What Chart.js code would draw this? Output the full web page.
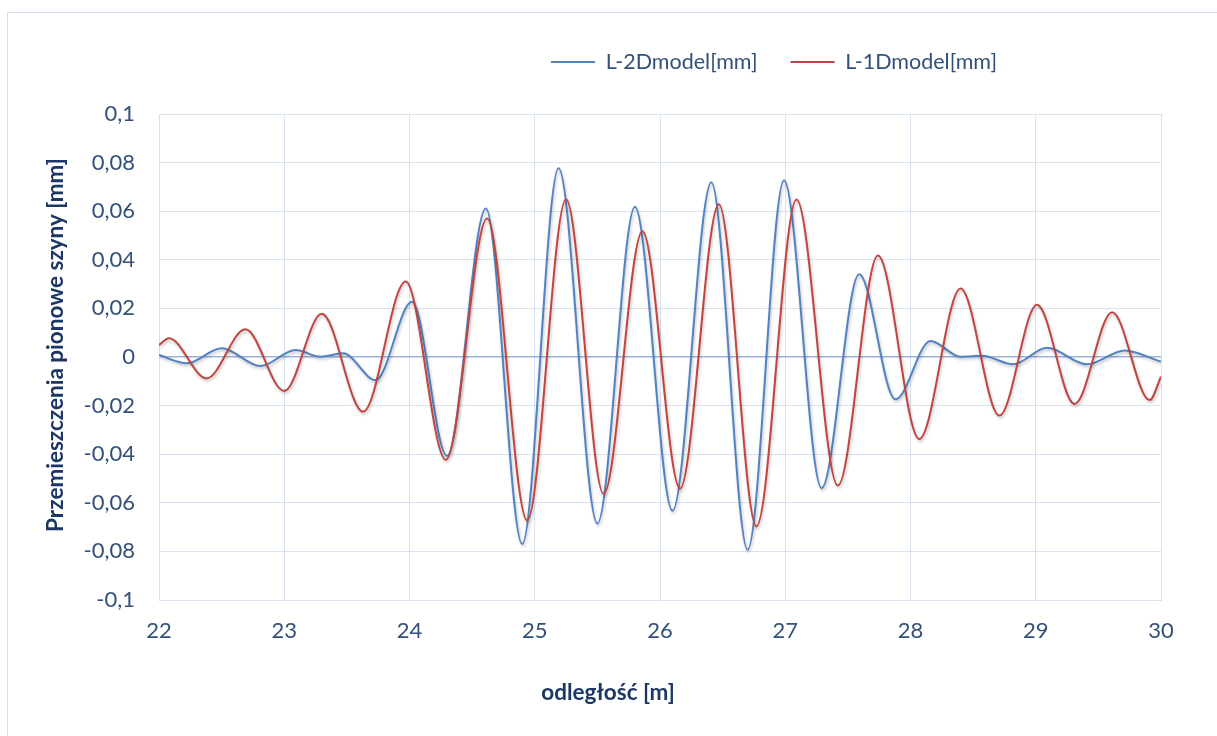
<!DOCTYPE html>
<html>
<head>
<meta charset="utf-8">
<script src="https://cdn.jsdelivr.net/npm/chart.js@4.4.1/dist/chart.umd.min.js"></script>
<style>
html,body{margin:0;padding:0;background:#fff;overflow:hidden;}
#frame{position:absolute;left:7px;top:12px;width:1400px;height:900px;border:1.5px solid #d5deef;box-sizing:border-box;}
#wrap{position:absolute;left:0;top:0;width:1217px;height:736px;}
</style>
</head>
<body>
<div id="frame"></div>
<div id="wrap"><canvas id="c" width="1217" height="736"></canvas></div>
<script>
// ---- data ----
const seriesNames = ['L-2Dmodel[mm]', 'L-1Dmodel[mm]'];
const xTickValues = [22, 23, 24, 25, 26, 27, 28, 29, 30];
const xTickLabels = ['22', '23', '24', '25', '26', '27', '28', '29', '30'];
const yTickValues = [-0.1, -0.08, -0.06, -0.04, -0.02, 0, 0.02, 0.04, 0.06, 0.08, 0.1];
const yTickLabels = ['-0,1', '-0,08', '-0,06', '-0,04', '-0,02', '0', '0,02', '0,04', '0,06', '0,08', '0,1'];
const axisTitleX = 'odległość [m]';
const axisTitleY = 'Przemieszczenia pionowe szyny [mm]';

// L-2Dmodel (blue) – extrema
const blueX = [22.00, 22.22, 22.50, 22.81, 23.09, 23.29, 23.47, 23.73, 24.02, 24.30, 24.61, 24.90, 25.19, 25.50, 25.80, 26.10, 26.41, 26.70, 26.99, 27.29, 27.59, 27.88, 28.16, 28.40, 28.57, 28.82, 29.09, 29.41, 29.71, 30.00];
const blueY = [0.0008, -0.0026, 0.0036, -0.0037, 0.0029, 0.0001, 0.0015, -0.0095, 0.0227, -0.0407, 0.0611, -0.0770, 0.0778, -0.0685, 0.0618, -0.0633, 0.0719, -0.0793, 0.0727, -0.0540, 0.0341, -0.0174, 0.0066, 0.0001, 0.0005, -0.0030, 0.0038, -0.0030, 0.0027, -0.0019];

// L-1Dmodel (red)
const redX = [22.00, 22.08, 22.38, 22.69, 23.00, 23.30, 23.63, 23.97, 24.29, 24.62, 24.94, 25.25, 25.55, 25.86, 26.16, 26.47, 26.77, 27.09, 27.42, 27.74, 28.07, 28.40, 28.71, 29.01, 29.31, 29.61, 29.91, 30.00];
const redY = [0.0049, 0.0077, -0.0088, 0.0114, -0.0140, 0.0178, -0.0225, 0.0311, -0.0423, 0.0570, -0.0673, 0.0649, -0.0564, 0.0518, -0.0541, 0.0629, -0.0697, 0.0648, -0.0529, 0.0418, -0.0337, 0.0282, -0.0241, 0.0215, -0.0193, 0.0184, -0.0177, -0.0081];

// ---- styling ----
const BLUE = '#5282c2';
const RED = '#c0443f';
const GRID = '#d9e2f1';
const ZERO = '#9db3da';
const TICK = '#33507a';
const TITLE = '#1c3764';
const FONT = 'Lato';

const toPts = (xs, ys) => xs.map((x, i) => ({ x: x, y: ys[i] }));

const shadowPlugin = {
  id: 'shadow',
  beforeDatasetDraw(chart) {
    const ctx = chart.ctx;
    ctx.save();
    ctx.shadowColor = 'rgba(0,0,0,0.25)';
    ctx.shadowBlur = 3;
    ctx.shadowOffsetX = 1;
    ctx.shadowOffsetY = 2;
  },
  afterDatasetDraw(chart) { chart.ctx.restore(); }
};

const LEG_PAD = 33;
const LEG_FONT = 21.5;
const legendPos = {
  id: 'legendPos',
  beforeLayout(chart) {
    const lg = chart.legend;
    if (lg && !lg._fx) {
      const f = lg.fit.bind(lg);
      lg.fit = function () { f(); this.height = 114; };
      lg._fx = true;
    }
  },
  afterLayout(chart) {
    const lg = chart.legend;
    const w = lg.width, h = lg.height;
    lg.left = 551 - LEG_PAD; lg.right = lg.left + w;
    lg.top = 62 - LEG_FONT / 2 - LEG_PAD; lg.bottom = lg.top + h;
    // shift axis titles the way the reference places them
    const shifts = { x: [-52, 0], y: [0, -12] };
    Object.keys(shifts).forEach(k => {
      const s = chart.scales[k];
      if (s && !s._pt) {
        const d = s.drawTitle.bind(s);
        s.drawTitle = function () {
          const c = this.ctx; c.save(); c.translate(shifts[k][0], shifts[k][1]); d(); c.restore();
        };
        s._pt = true;
      }
    });
  }
};

new Chart(document.getElementById('c'), {
  type: 'line',
  data: {
    datasets: [
      { label: seriesNames[0], data: toPts(blueX, blueY), borderColor: BLUE, backgroundColor: BLUE, borderWidth: 2, order: 1 },
      { label: seriesNames[1], data: toPts(redX, redY), borderColor: RED, backgroundColor: RED, borderWidth: 2, order: 0 }
    ]
  },
  options: {
    responsive: false,
    animation: false,
    devicePixelRatio: 1,
    layout: { padding: { top: 0, right: 56, bottom: 0, left: 0 } },
    elements: {
      point: { radius: 0, hoverRadius: 0 },
      line: { cubicInterpolationMode: 'monotone', fill: false }
    },
    plugins: {
      tooltip: { enabled: false },
      legend: {
        display: true,
        position: 'top',
        align: 'start',
        labels: {
          boxWidth: 44,
          boxHeight: 2,
          padding: LEG_PAD,
          color: TICK,
          font: { family: FONT, size: LEG_FONT },
          sort: (a, b) => a.datasetIndex - b.datasetIndex,
          generateLabels: (chart) => Chart.defaults.plugins.legend.labels.generateLabels(chart).map(l => Object.assign(l, { lineWidth: 0 }))
        }
      }
    },
    scales: {
      x: {
        type: 'linear',
        min: 22, max: 30,
        afterBuildTicks: (s) => { s.ticks = xTickValues.map(v => ({ value: v })); },
        afterFit: (s) => { s.height = 136; },
        ticks: {
          padding: 18,
          color: TICK,
          font: { family: FONT, size: 22 },
          maxRotation: 0,
          callback: (v, i) => xTickLabels[i]
        },
        grid: { color: GRID, lineWidth: 1, drawTicks: false },
        border: { color: GRID, width: 1 },
        title: {
          display: true, text: axisTitleX, color: TITLE,
          font: { family: FONT, size: 22.5, weight: 'bold' },
          padding: { top: 0, bottom: 30 }
        }
      },
      y: {
        type: 'linear',
        min: -0.1, max: 0.1,
        afterBuildTicks: (s) => { s.ticks = yTickValues.map(v => ({ value: v })); },
        afterFit: (s) => { s.width = 159; },
        ticks: {
          padding: 24,
          color: TICK,
          font: { family: FONT, size: 22 },
          callback: (v, i) => yTickLabels[i]
        },
        grid: {
          color: (c) => (c.tick && Math.abs(c.tick.value) < 1e-9) ? ZERO : GRID,
          lineWidth: (c) => (c.tick && Math.abs(c.tick.value) < 1e-9) ? 1.5 : 1,
          drawTicks: false
        },
        border: { color: GRID, width: 1 },
        title: {
          display: true, text: axisTitleY, color: TITLE,
          font: { family: FONT, size: 22.5, weight: 'bold' },
          padding: { top: 42, bottom: 0 }
        }
      }
    }
  },
  plugins: [shadowPlugin, legendPos]
});
</script>
</body>
</html>
